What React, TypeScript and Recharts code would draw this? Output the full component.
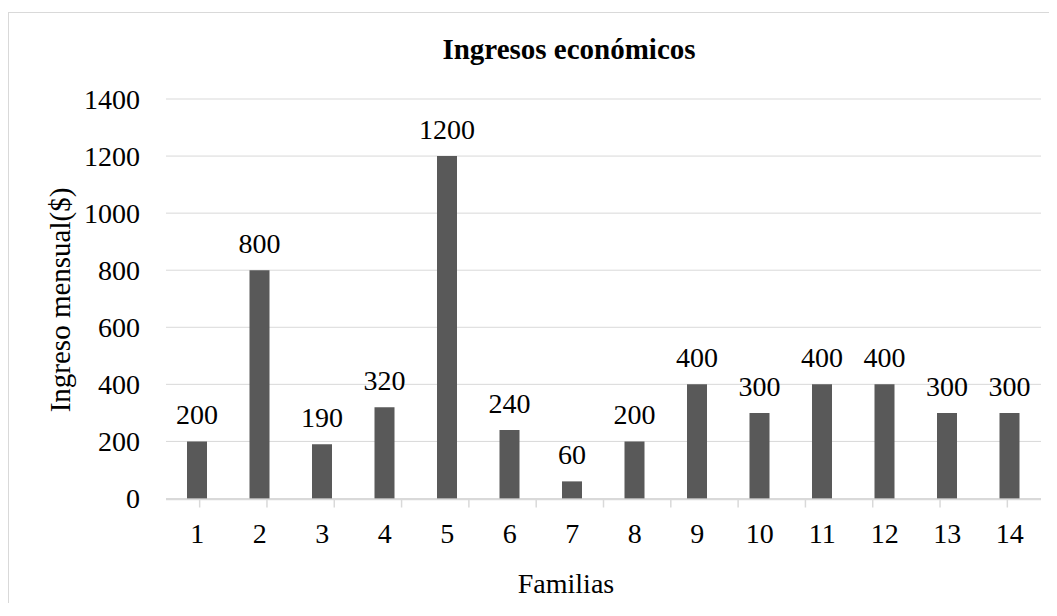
import * as React from "react";
import {
  BarChart,
  Bar,
  XAxis,
  YAxis,
  CartesianGrid,
  LabelList,
} from "recharts";

const familias = ["1", "2", "3", "4", "5", "6", "7", "8", "9", "10", "11", "12", "13", "14"];
const ingresos = [200, 800, 190, 320, 1200, 240, 60, 200, 400, 300, 400, 400, 300, 300];
const yTicks = [0, 200, 400, 600, 800, 1000, 1200, 1400];
// category boundaries, for the little tick marks between bars
const edgeTicks = [0.5, 1.5, 2.5, 3.5, 4.5, 5.5, 6.5, 7.5, 8.5, 9.5, 10.5, 11.5, 12.5, 13.5, 14.5];

const data = familias.map((f, i) => ({ familia: f, ingreso: ingresos[i] }));

const FONT = '"Liberation Serif", "Times New Roman", serif';
const GRID = "#d9d9d9";

export default function App() {
  return (
    <div
      style={{
        position: "relative",
        marginTop: 4,
        width: 1049,
        height: 590,
        borderLeft: `1px solid ${GRID}`,
        borderTop: `1px solid ${GRID}`,
        fontFamily: FONT,
        overflow: "hidden",
      }}
    >
      <style>{`svg text { font-family: "Liberation Serif", "Times New Roman", serif !important; }`}</style>
      <BarChart
        width={1048}
        height={590}
        data={data}
        margin={{ top: 86, right: 16, left: 0, bottom: 102.5 }}
      >
        <CartesianGrid vertical={false} stroke={GRID} strokeWidth={1} />
        <XAxis
          xAxisId="edges"
          type="number"
          domain={[0.5, 14.5]}
          ticks={edgeTicks}
          height={1}
          axisLine={{ stroke: GRID, strokeWidth: 1.5 }}
          tickLine={{ stroke: GRID, strokeWidth: 1.5 }}
          tickSize={8}
          tickFormatter={() => ""}
          allowDataOverflow
        />
        <XAxis
          dataKey="familia"
          height={1}
          axisLine={false}
          tickLine={false}
          tickSize={0}
          tickMargin={25}
          tick={{ fill: "#000", fontSize: 28 }}
          interval={0}
        />
        <YAxis
          width={157}
          domain={[0, 1400]}
          ticks={yTicks}
          axisLine={false}
          tickLine={false}
          tickSize={0}
          tickMargin={26}
          tick={{ fill: "#000", fontSize: 28 }}
        />
        <Bar dataKey="ingreso" fill="#595959" barSize={20} isAnimationActive={false}>
          <LabelList dataKey="ingreso" position="top" offset={17} fill="#000" fontSize={28} />
        </Bar>
      </BarChart>
      <svg
        width={1048}
        height={590}
        style={{ position: "absolute", left: 0, top: 0, pointerEvents: "none" }}
      >
        <text x={560} y={46} textAnchor="middle" fontSize={29} fontWeight="bold" fill="#000">
          Ingresos económicos
        </text>
        <text
          x={61}
          y={287}
          transform="rotate(-90 61 287)"
          textAnchor="middle"
          fontSize={29}
          fill="#000"
        >
          Ingreso mensual($)
        </text>
        <text x={557} y={580} textAnchor="middle" fontSize={28} fill="#000">
          Familias
        </text>
      </svg>
    </div>
  );
}
